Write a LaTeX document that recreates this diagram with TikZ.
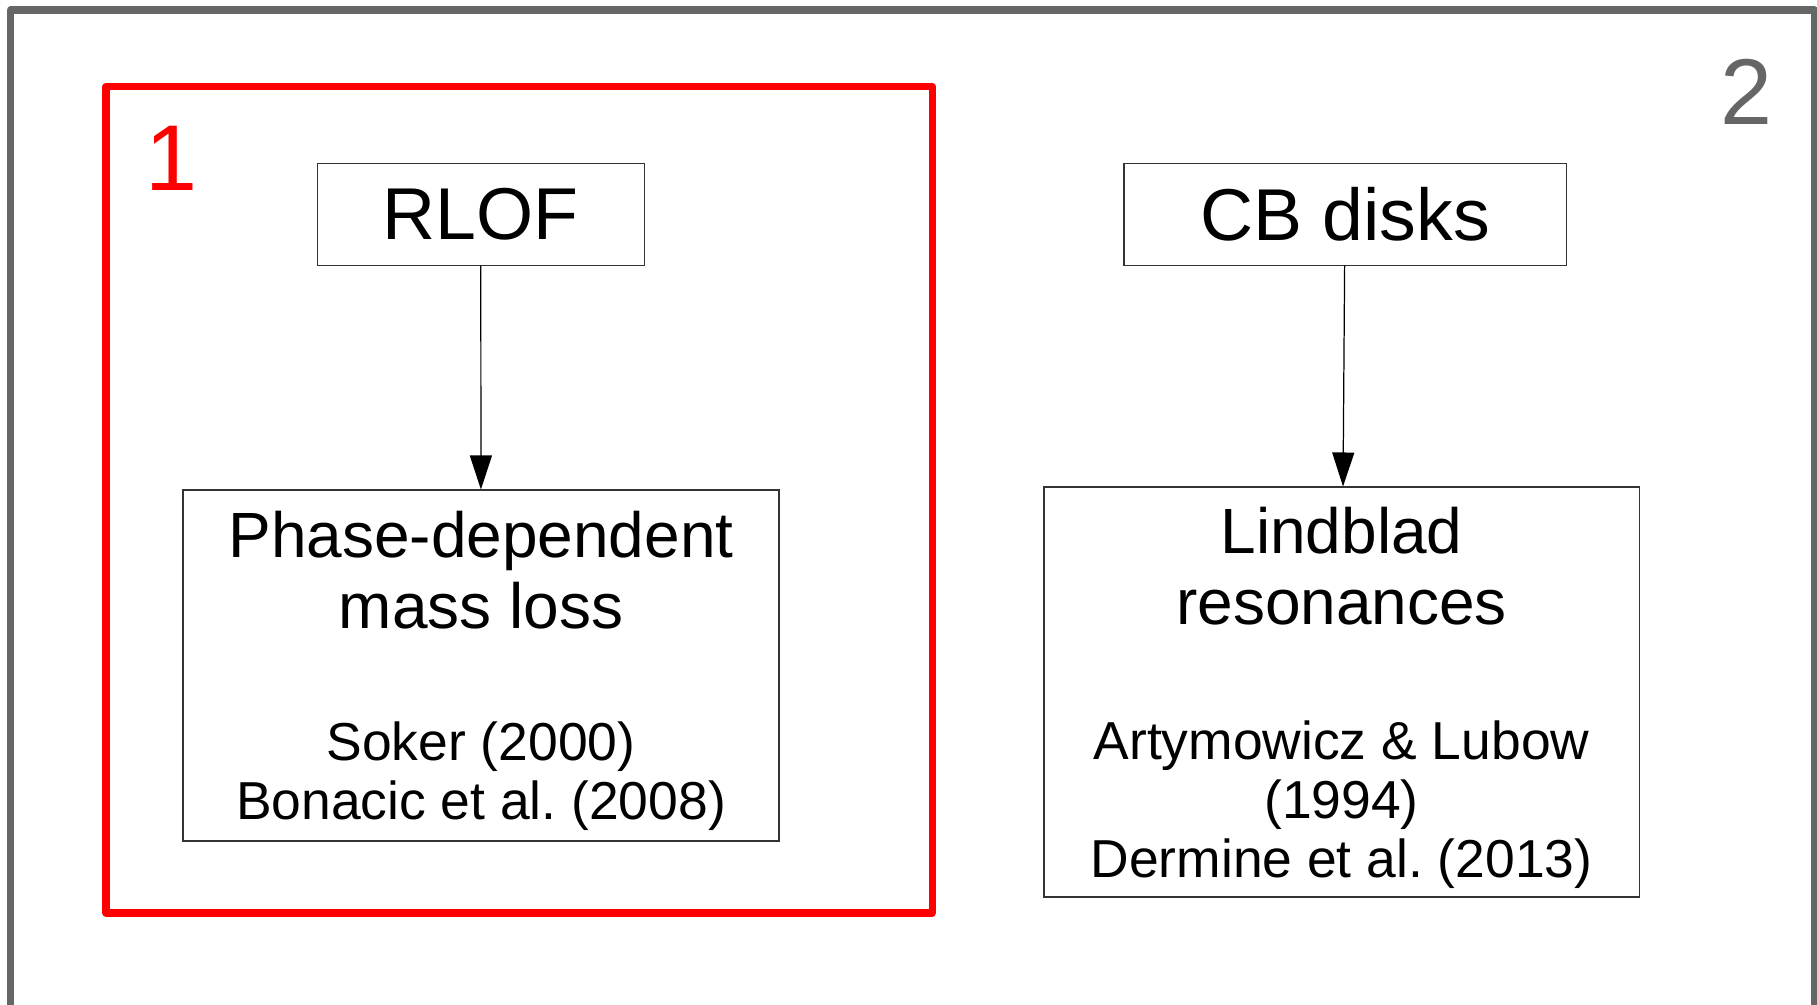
\documentclass[tikz,border=0pt]{standalone}
\usepackage{fontspec}
\setmainfont{Liberation Sans}
\usetikzlibrary{arrows.meta}
\definecolor{framegrey}{RGB}{102,102,102}
\definecolor{groupred}{RGB}{255,0,0}
\frenchspacing

\begin{document}
\begin{tikzpicture}[x=1mm,y=1mm,
  mechbox/.style={draw=black!80,line width=.3pt,inner sep=0pt},
  headtext/.style={font=\fontsize{20.9}{24}\selectfont},
  effecttext/.style={align=center,font=\fontsize{18.2}{20.3}\selectfont},
  reftext/.style={align=center,font=\fontsize{15.2}{16.8}\selectfont},
  grouplabel/.style={font=\fontsize{26.6}{30}\selectfont},
  flow/.style={-{Triangle[length=3.4mm,width=2.2mm]},line width=.35pt}]
\path[use as bounding box] (0,0) rectangle (181.7,100.4);
% outer frame (group 2) runs off the lower edge
\draw[framegrey,line width=2pt,line join=round] (1.05,-2) -- (1.05,99.4)
  -- (181.45,99.4) -- (181.45,-2);
\draw[groupred,line width=2pt,line join=round] (10.6,9.1) rectangle (93.2,91.75);
\node[grouplabel,text=groupred] (grp1) at (17.1,84.55) {1};
\node[grouplabel,text=framegrey] (grp2) at (174.6,91.2) {2};
% left column
\node[mechbox,headtext,minimum width=32.7mm,minimum height=10.17mm] (rlof)
  at (48.08,78.98) {RLOF};
\node[mechbox,minimum width=59.6mm,minimum height=35.1mm] (phase) at (48.1,33.85) {};
\node[effecttext] (phasetxt) at (48.1,43.4) {Phase-dependent\\mass loss};
\node[reftext] (phaseref) at (48.1,22.8) {Soker (2000)\\Bonacic et al. (2008)};
% right column
\node[mechbox,headtext,minimum width=44.2mm,minimum height=10.17mm] (cbdisk)
  at (134.5,78.98) {CB disks};
\node[mechbox,minimum width=59.5mm,minimum height=41mm] (lindblad) at (134.15,31.2) {};
\node[effecttext] (lindtxt) at (134.15,43.8) {Lindblad\\resonances};
\node[reftext] (lindref) at (134.15,19.9)
  {Artymowicz \& Lubow\\(1994)\\Dermine et al. (2013)};
\draw[flow] (rlof) -- (phase);
\draw[flow] (cbdisk) -- (lindblad);
\end{tikzpicture}
\end{document}
